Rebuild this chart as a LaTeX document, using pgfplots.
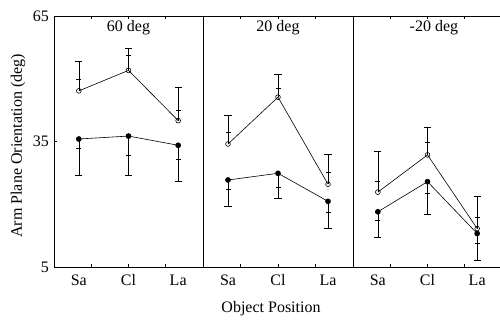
\documentclass[border=0pt]{standalone}
\usepackage{fontspec}
\setmainfont{Liberation Serif}
\usepackage{pgfplots}
\pgfplotsset{compat=1.18}
\pgfplotsset{
  panel/.style={
    scale only axis, height=251pt,
    xmin=0.5, xmax=3.5, ymin=5, ymax=65,
    xtick={1.25,2,2.75}, xticklabels={},
    extra x ticks={1,2,3}, extra x tick labels={Sa,Cl,La},
    extra x tick style={major tick length=0pt},
    tick align=inside, major tick length=3pt,
    ytick=\empty,
    axis line style={line width=0.7pt},
    every tick/.style={black, line width=0.6pt},
    tick label style={font=\fontsize{16}{19}\selectfont},
    xticklabel style={yshift=-4pt},
    /pgf/number format/assume math mode=true,
    clip=false,
  },
  openser/.style={black, line width=0.6pt, mark=o, mark size=2.4pt,
    mark options={fill=white, solid, line width=0.6pt},
    error bars/.cd, y dir=plus, y explicit, error mark=|,
    error mark options={black, mark size=3.6pt, line width=0.7pt},
    error bar style={line width=0.6pt}},
  fillser/.style={black, line width=0.6pt, mark=*, mark size=2.5pt,
    mark options={fill=black, solid},
    error bars/.cd, y dir=minus, y explicit, error mark=|,
    error mark options={black, mark size=3.6pt, line width=0.7pt},
    error bar style={line width=0.6pt}},
  midtick/.style={black, only marks, mark=-, mark size=2.5pt, mark options={line width=0.6pt}},
}
\newcommand{\ttl}{\fontsize{16}{19}\selectfont}
\begin{document}
\begin{tikzpicture}
\useasboundingbox (0,0) rectangle (500pt,325pt);
% Panel 1
\begin{axis}[panel, width=149pt, at={(54pt,58pt)}, anchor=south west,
  ytick={5,35,65}, ytick pos=left, yticklabel style={xshift=-1.5pt}]
\addplot[midtick] coordinates {(1,49.8) (2,55.5) (3,42.5)};
\addplot[midtick] coordinates {(1,33.4) (2,31.6) (3,30.7)};
\addplot[openser] coordinates {(1,47.1) +- (0,7.1) (2,52.0) +- (0,5.3) (3,40.0) +- (0,8.0)};
\addplot[fillser] coordinates {(1,35.6) +- (0,8.6) (2,36.3) +- (0,9.5) (3,34.1) +- (0,8.7)};
\node[anchor=base, font=\ttl] at (axis cs:2,61.2) {60 deg};
\end{axis}
% Panel 2
\begin{axis}[panel, width=150pt, at={(203pt,58pt)}, anchor=south west]
\addplot[midtick] coordinates {(1,37.3) (2,47.7) (3,27.6)};
\addplot[midtick] coordinates {(1,23.6) (2,24.0) (3,18.1)};
\addplot[openser] coordinates {(1,34.4) +- (0,6.9) (2,45.6) +- (0,5.4) (3,24.8) +- (0,7.1)};
\addplot[fillser] coordinates {(1,25.8) +- (0,6.2) (2,27.4) +- (0,6.1) (3,20.7) +- (0,6.4)};
\node[anchor=base, font=\ttl] at (axis cs:2,61.2) {20 deg};
\end{axis}
% Panel 3
\begin{axis}[panel, width=149pt, at={(353pt,58pt)}, anchor=south west]
\addplot[midtick] coordinates {(1,25.6) (2,34.7) (3,16.9)};
\addplot[midtick] coordinates {(1,16.2) (2,22.7) (3,10.7)};
\addplot[openser] coordinates {(1,22.9) +- (0,9.7) (2,31.8) +- (0,6.6) (3,14.2) +- (0,7.7)};
\addplot[fillser] coordinates {(1,18.2) +- (0,6.0) (2,25.4) +- (0,7.7) (3,13.0) +- (0,6.3)};
\node[anchor=base, font=\ttl] at (axis cs:2.13,61.2) {-20 deg};
\end{axis}
\node[rotate=90, font=\ttl] at (18pt,179pt) {Arm Plane Orientation (deg)};
\node[anchor=base, font=\ttl] at (271pt,13pt) {Object Position};
\end{tikzpicture}
\end{document}
